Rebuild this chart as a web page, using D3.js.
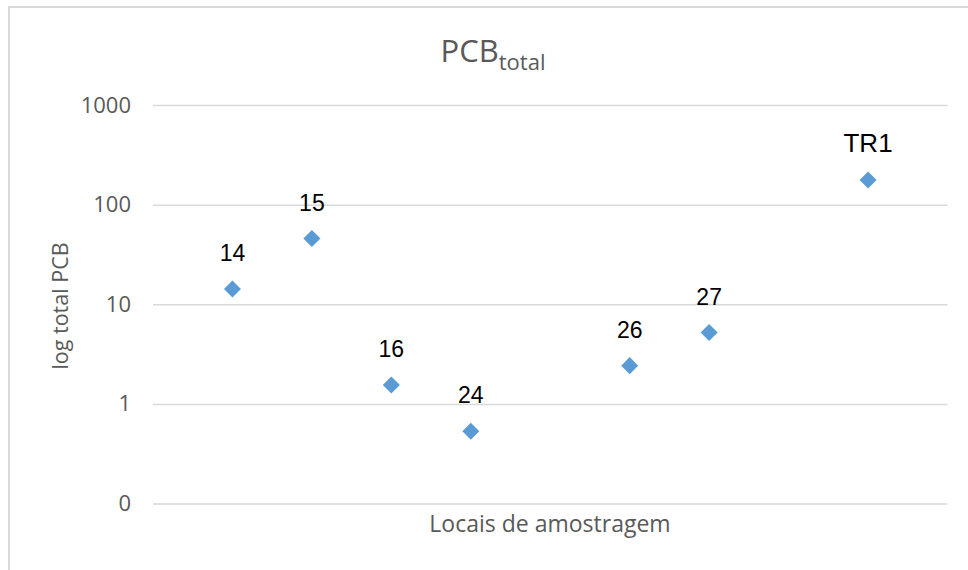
<!DOCTYPE html>
<html>
<head>
<meta charset="utf-8">
<script src="https://cdn.jsdelivr.net/npm/d3@7"></script>
<style>
  body { margin: 0; background: #fff; }
  text { font-family: "Open Sans", sans-serif; }
</style>
</head>
<body>
<div id="chart"></div>
<script>
const width = 968;
const height = 570;

// sampling sites, their position on the x axis and total PCB
const sites = ["14", "15", "16", "24", "26", "27", "TR1"];
const positions = [1, 2, 3, 4, 6, 7, 9];
const pcbTotal = [14.2, 45.6, 1.55, 0.53, 2.42, 5.2, 177];
const yTicks = [0.1, 1, 10, 100, 1000];
const yTickLabels = ["0", "1", "10", "100", "1000"];

const data = sites.map((s, i) => ({ site: s, x: positions[i], value: pcbTotal[i] }));

const svg = d3.select("#chart").append("svg")
    .attr("width", width)
    .attr("height", height);

// outer chart border (only top/left visible in the original)
svg.append("path")
    .attr("d", `M9,${height} V7 H${width}`)
    .attr("fill", "none")
    .attr("stroke", "#d9d9d9")
    .attr("stroke-width", 2);

const x = d3.scaleLinear().domain([0, 10]).range([153, 947.5]);
const y = d3.scaleLog().domain([0.1, 1000]).range([503.5, 105]);

// gridlines + tick labels
const yAxis = d3.axisLeft(y)
    .tickValues(yTicks)
    .tickSize(-(947.5 - 153))
    .tickPadding(22)
    .tickFormat((d, i) => yTickLabels[i]);

const gy = svg.append("g")
    .attr("transform", "translate(153,0)")
    .call(yAxis);
gy.select(".domain").remove();
gy.selectAll(".tick line").attr("stroke", "#d9d9d9").attr("stroke-width", 1.5);
gy.selectAll(".tick text")
    .attr("fill", "#595959")
    .style("font-size", "22px");

// title
const title = svg.append("text")
    .attr("x", 493)
    .attr("y", 62)
    .attr("text-anchor", "middle")
    .attr("fill", "#595959")
    .style("font-size", "31px");
title.append("tspan").text("PCB");
title.append("tspan").style("font-size", "22px").attr("dy", 8).text("total");

// axis titles
svg.append("text")
    .attr("transform", "translate(68,306) rotate(-90)")
    .attr("text-anchor", "middle")
    .attr("fill", "#595959")
    .style("font-size", "21.5px")
    .text("log total PCB");

svg.append("text")
    .attr("x", 550)
    .attr("y", 532)
    .attr("text-anchor", "middle")
    .attr("fill", "#595959")
    .style("font-size", "23px")
    .text("Locais de amostragem");

// markers
const diamond = d3.symbol().type(d3.symbolDiamond2).size(185);
svg.selectAll(".pt")
    .data(data)
    .enter().append("path")
    .attr("class", "pt")
    .attr("d", diamond)
    .attr("transform", d => `translate(${x(d.x)},${y(d.value)})`)
    .attr("fill", "#5b9bd5");

// data labels (TR1 is drawn a bit larger in the original)
svg.selectAll(".lbl")
    .data(data)
    .enter().append("text")
    .attr("class", "lbl")
    .attr("x", d => x(d.x))
    .attr("y", d => y(d.value) - 28)
    .attr("text-anchor", "middle")
    .attr("fill", "#000")
    .style("font-family", "Liberation Sans, Arial, sans-serif")
    .style("font-size", d => d.site === "TR1" ? "26px" : "23px")
    .text(d => d.site);
</script>
</body>
</html>
